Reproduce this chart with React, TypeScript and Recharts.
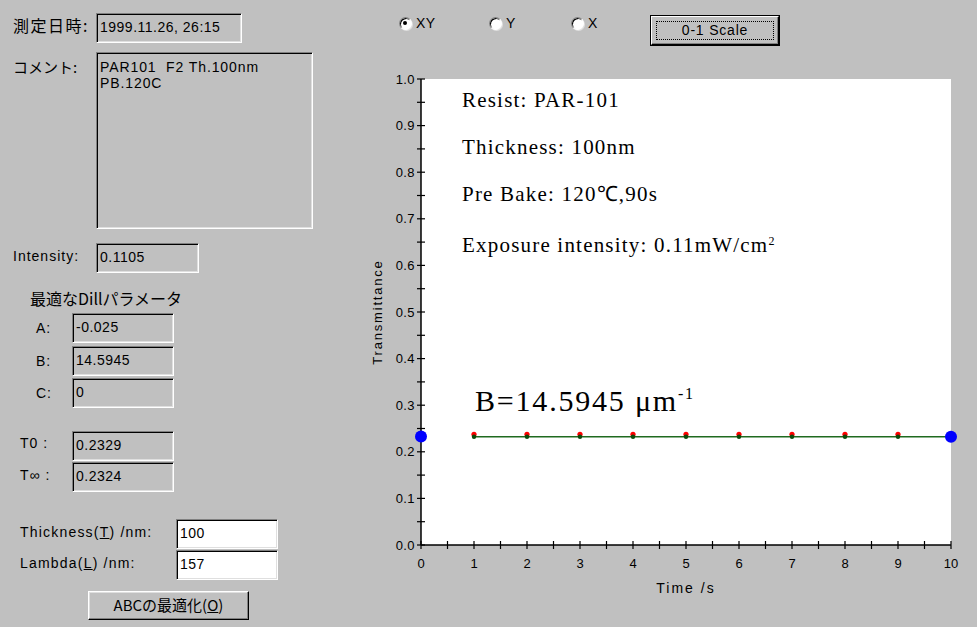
import React from "react";
import {
  ComposedChart,
  Line,
  Scatter,
  XAxis,
  YAxis,
  CartesianGrid,
} from "recharts";

// exposure time (s) of the measured / fitted points
const times = [1, 2, 3, 4, 5, 6, 7, 8, 9];
const measured = [0.2375, 0.2375, 0.2375, 0.2375, 0.2375, 0.2375, 0.2375, 0.2375, 0.2375];
const fitTimes = [1, 2, 3, 4, 5, 6, 7, 8, 9, 10];
const fitted = [0.2324, 0.2324, 0.2324, 0.2324, 0.2324, 0.2324, 0.2324, 0.2324, 0.2324, 0.2324];
// T0 at t=0, T-infinity at the end
const endTimes = [0, 10];
const endValues = [0.2329, 0.2324];

const xTicks = [0, 0.5, 1, 1.5, 2, 2.5, 3, 3.5, 4, 4.5, 5, 5.5, 6, 6.5, 7, 7.5, 8, 8.5, 9, 9.5, 10];
const xLabels = [0, 1, 2, 3, 4, 5, 6, 7, 8, 9, 10];
const yTicks = [0, 0.05, 0.1, 0.15, 0.2, 0.25, 0.3, 0.35, 0.4, 0.45, 0.5, 0.55, 0.6, 0.65, 0.7, 0.75, 0.8, 0.85, 0.9, 0.95, 1];
const yLabels = [0, 0.1, 0.2, 0.3, 0.4, 0.5, 0.6, 0.7, 0.8, 0.9, 1];

const measuredData = times.map((t, i) => ({ t, v: measured[i] }));
const fitData = fitTimes.map((t, i) => ({ t, v: fitted[i] }));
const endData = endTimes.map((t, i) => ({ t, v: endValues[i] }));

const SANS = '"Liberation Sans", Arial, "Noto Sans CJK JP", sans-serif';
const JP = '"Noto Sans CJK JP", "Liberation Sans", sans-serif';
const SERIF = '"Liberation Serif", "Times New Roman", serif';

function YTick(props: any) {
  const { x, y, payload } = props;
  const major = yLabels.includes(payload.value);
  return (
    <g>
      <line x1={x - 4} x2={x + 4} y1={y} y2={y} stroke="#000" strokeWidth={1.2} />
      {major && (
        <text x={x - 6} y={y + 4.5} textAnchor="end" fontSize={13} letterSpacing={0.4} fontFamily={SANS} fill="#000">
          {payload.value.toFixed(1)}
        </text>
      )}
    </g>
  );
}

function XTick(props: any) {
  const { x, y, payload } = props;
  const major = xLabels.includes(payload.value);
  return (
    <g>
      <line x1={x} x2={x} y1={y - 4} y2={y + 4} stroke="#000" strokeWidth={1.2} />
      {major && (
        <text x={x} y={y + 23} textAnchor="middle" fontSize={13} fontFamily={SANS} fill="#000">
          {payload.value}
        </text>
      )}
    </g>
  );
}

function YTitle(props: any) {
  const vb = props.viewBox;
  if (!vb) return null;
  const cx = vb.x - 4;
  const cy = vb.y + vb.height / 2;
  return (
    <text
      x={cx}
      y={cy}
      transform={`rotate(-90 ${cx} ${cy})`}
      textAnchor="middle"
      dominantBaseline="central"
      fontSize={13}
      letterSpacing={1.8}
      fontFamily={SANS}
      fill="#000"
    >
      Transmittance
    </text>
  );
}

function XTitle(props: any) {
  const vb = props.viewBox;
  if (!vb) return null;
  return (
    <text
      x={vb.x + vb.width / 2}
      y={vb.y + 48}
      textAnchor="middle"
      fontSize={14}
      letterSpacing={2}
      fontFamily={SANS}
      fill="#000"
    >
      Time /s
    </text>
  );
}

const dot = (r: number, fill: string) => (p: any) => (
  <circle cx={p.cx} cy={p.cy} r={r} fill={fill} />
);

const sunken = (white: boolean): React.CSSProperties => ({
  position: "absolute",
  boxSizing: "border-box",
  background: white ? "#fff" : "#c0c0c0",
  borderStyle: "solid",
  borderWidth: 1,
  borderColor: "#808080 #fff #fff #808080",
  boxShadow: "inset 1px 1px 0 #000, inset -1px -1px 0 #dfdfdf",
  fontFamily: SANS,
  fontSize: 14,
  letterSpacing: 0.5,
  color: "#000",
  paddingLeft: 3,
});

function Box({ x, y, w, h, white = false, children }: any) {
  return (
    <div style={{ ...sunken(white), left: x, top: y, width: w, height: h, lineHeight: `${h - 4}px` }}>
      {children}
    </div>
  );
}

function Txt({ x, cy, size = 14, font = SANS, spacing = 1, children }: any) {
  return (
    <div
      style={{
        position: "absolute",
        left: x,
        top: cy - 10,
        height: 20,
        lineHeight: "20px",
        fontSize: size,
        fontFamily: font,
        letterSpacing: spacing,
        whiteSpace: "pre",
        color: "#000",
      }}
    >
      {children}
    </div>
  );
}

function Radio({ x, cy, checked, label }: any) {
  return (
    <>
      <div
        style={{
          position: "absolute",
          left: x - 6.5,
          top: cy - 6.5,
          width: 13,
          height: 13,
          boxSizing: "border-box",
          borderRadius: "50%",
          background: "#fff",
          borderStyle: "solid",
          borderWidth: 1,
          borderColor: "#808080 #fff #fff #808080",
          boxShadow: "inset 1px 1px 0 #000, 1px 1px 0 #dfdfdf",
        }}
      >
        {checked && (
          <div
            style={{
              position: "absolute",
              left: 3.5,
              top: 3.5,
              width: 4,
              height: 4,
              borderRadius: "50%",
              background: "#000",
            }}
          />
        )}
      </div>
      <Txt x={x + 11} cy={cy} size={14} spacing={0.5}>
        {label}
      </Txt>
    </>
  );
}

const annotations = [
  "Resist: PAR-101",
  "Thickness: 100nm",
  "Pre Bake: 120℃,90s",
];

export default function App() {
  return (
    <div
      style={{
        position: "absolute",
        left: 0,
        top: 0,
        width: 977,
        height: 627,
        background: "#c0c0c0",
        overflow: "hidden",
      }}
    >
      <div style={{ position: "absolute", left: 0, top: 0 }}>
        <ComposedChart
          width={977}
          height={627}
          margin={{ top: 79, right: 26, bottom: 52, left: 381 }}
        >
          <CartesianGrid horizontal={false} vertical={false} fill="#ffffff" stroke="none" />
          <XAxis
            dataKey="t"
            type="number"
            domain={[0, 10]}
            ticks={xTicks}
            interval={0}
            height={30}
            tickSize={0}
            tickMargin={0}
            tickLine={false}
            axisLine={{ stroke: "#000", strokeWidth: 1.5 }}
            tick={<XTick />}
            label={<XTitle />}
          />
          <YAxis
            dataKey="v"
            type="number"
            domain={[0, 1]}
            ticks={yTicks}
            interval={0}
            width={40}
            tickSize={0}
            tickMargin={0}
            tickLine={false}
            axisLine={{ stroke: "#000", strokeWidth: 1.5 }}
            tick={<YTick />}
            label={<YTitle />}
          />
          <Scatter
            data={measuredData}
            dataKey="v"
            shape={dot(2.6, "#ff0000")}
            isAnimationActive={false}
          />
          <Line
            data={fitData}
            dataKey="v"
            type="linear"
            stroke="#1f6a1f"
            strokeWidth={1.6}
            dot={{ r: 2.2, fill: "#0b4a0b", stroke: "none" }}
            activeDot={false}
            isAnimationActive={false}
          />
          <Scatter
            data={endData}
            dataKey="v"
            shape={dot(6, "#0000ff")}
            isAnimationActive={false}
          />
        </ComposedChart>
      </div>

      {/* notes inside the plot */}
      {annotations.map((s, i) => (
        <div
          key={s}
          style={{
            position: "absolute",
            left: 462,
            top: 88 + i * 47,
            lineHeight: "24px",
            fontSize: 21,
            letterSpacing: 1.2,
            fontFamily: SERIF,
            whiteSpace: "pre",
          }}
        >
          {s}
        </div>
      ))}
      <div
        style={{
          position: "absolute",
          left: 462,
          top: 229,
          lineHeight: "24px",
          fontSize: 21,
          letterSpacing: 1.2,
          fontFamily: SERIF,
          whiteSpace: "pre",
        }}
      >
        Exposure intensity: 0.11mW/cm
        <span style={{ fontSize: 12, verticalAlign: 7 }}>2</span>
      </div>
      <div
        style={{
          position: "absolute",
          left: 475,
          top: 376,
          lineHeight: "36px",
          fontSize: 30,
          letterSpacing: 1.8,
          fontFamily: SERIF,
          whiteSpace: "pre",
        }}
      >
        B=14.5945 μm
        <span style={{ fontSize: 16, verticalAlign: 12 }}>-1</span>
      </div>

      {/* top controls */}
      <Radio x={405} cy={23} checked label="XY" />
      <Radio x={495} cy={23} label="Y" />
      <Radio x={577} cy={23} label="X" />
      <div
        style={{
          position: "absolute",
          left: 650,
          top: 15,
          width: 130,
          height: 31,
          boxSizing: "border-box",
          border: "1px solid #000",
          background: "#c0c0c0",
        }}
      >
        <div
          style={{
            position: "absolute",
            inset: 0,
            borderStyle: "solid",
            borderWidth: 1,
            borderColor: "#fff #000 #000 #fff",
            boxShadow: "inset -1px -1px 0 #808080",
          }}
        />
        <div
          style={{
            position: "absolute",
            left: 5,
            top: 5,
            right: 5,
            bottom: 5,
            border: "1px dotted #000",
            fontFamily: SANS,
            fontSize: 14,
            lineHeight: "17px",
            textAlign: "center",
            letterSpacing: 0.8,
          }}
        >
          0-1 Scale
        </div>
      </div>

      {/* left panel */}
      <Txt x={13} cy={25} size={16} font={JP} spacing={1.5}>測定日時:</Txt>
      <Box x={96} y={13} w={146} h={30}>1999.11.26, 26:15</Box>
      <Txt x={13} cy={67} size={15} font={JP} spacing={0}>コメント:</Txt>
      <div
        style={{
          ...sunken(false),
          left: 96,
          top: 52,
          width: 217,
          height: 177,
          paddingTop: 6,
          lineHeight: "16px",
          letterSpacing: 0.9,
          whiteSpace: "pre",
        }}
      >
        {"PAR101  F2 Th.100nm\nPB.120C"}
      </div>

      <Txt x={13} cy={256}>Intensity:</Txt>
      <Box x={96} y={243} w={103} h={30}>0.1105</Box>

      <Txt x={30} cy={298} size={16} font={JP} spacing={0}>最適なDillパラメータ</Txt>
      <Txt x={36} cy={328}>A:</Txt>
      <Box x={72} y={313} w={102} h={30}>-0.025</Box>
      <Txt x={36} cy={361}>B:</Txt>
      <Box x={72} y={346} w={102} h={30}>14.5945</Box>
      <Txt x={36} cy={393}>C:</Txt>
      <Box x={72} y={378} w={102} h={30}>0</Box>

      <Txt x={20} cy={443}>T0 :</Txt>
      <Box x={72} y={431} w={102} h={30}>0.2329</Box>
      <Txt x={20} cy={475}>T∞ :</Txt>
      <Box x={72} y={462} w={102} h={30}>0.2324</Box>

      <Txt x={20} cy={532} spacing={1.2}>
        Thickness(<u>T</u>) /nm:
      </Txt>
      <Box x={176} y={519} w={102} h={30} white>100</Box>
      <Txt x={20} cy={563} spacing={1.2}>
        Lambda(<u>L</u>) /nm:
      </Txt>
      <Box x={176} y={550} w={102} h={30} white>157</Box>

      <div
        style={{
          position: "absolute",
          left: 88,
          top: 591,
          width: 161,
          height: 29,
          boxSizing: "border-box",
          borderStyle: "solid",
          borderWidth: 1,
          borderColor: "#fff #000 #000 #fff",
          boxShadow: "inset -1px -1px 0 #808080, inset 1px 1px 0 #dfdfdf",
          fontFamily: JP,
          fontSize: 15,
          lineHeight: "26px",
          textAlign: "center",
        }}
      >
        ABCの最適化(<u>O</u>)
      </div>
    </div>
  );
}
